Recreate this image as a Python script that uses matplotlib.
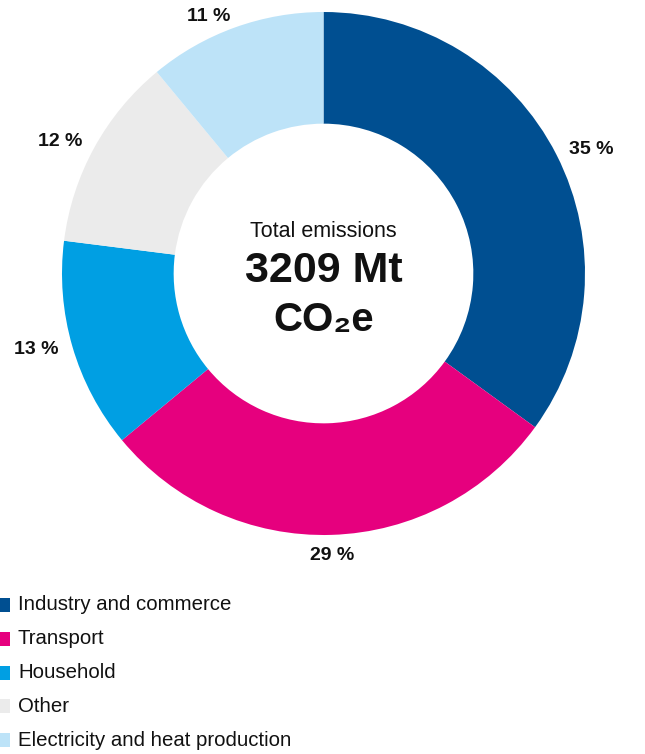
import numpy as np
import matplotlib
matplotlib.use('Agg')
import matplotlib.pyplot as plt
from matplotlib.patches import Rectangle

# data
sectors = ['Industry and commerce', 'Transport', 'Household', 'Other',
           'Electricity and heat production']
shares = [35, 29, 13, 12, 11]
colors = ['#004f91', '#e6007e', '#009fe3', '#ebebeb', '#bde3f8']
total_label = '3209 Mt'

plt.rcParams['font.family'] = ['Liberation Sans', 'DejaVu Sans']

W, H = 645, 754
fig = plt.figure(figsize=(W / 100, H / 100), dpi=100)
ax = fig.add_axes([0, 0, 1, 1])

cx, cy, R = 323.5, H - 273.5, 261.5
wedges, _ = ax.pie(shares, colors=colors, startangle=90, counterclock=False,
                   center=(cx, cy), radius=R, frame=True,
                   wedgeprops=dict(width=R * 0.427, linewidth=0))
ax.set_xlim(0, W)
ax.set_ylim(0, H)
ax.set_aspect('equal')
ax.axis('off')

# percent labels just outside the ring, anchored on the side facing it
for w, s in zip(wedges, shares):
    ang = np.deg2rad((w.theta1 + w.theta2) / 2)
    c, sn = np.cos(ang), np.sin(ang)
    x = cx + (R + 14) * c
    y = cy + (R + 12) * sn
    ha = 'left' if c > 0.3 else ('right' if c < -0.3 else 'center')
    va = 'center'
    if abs(c) <= 0.3:
        va = 'bottom' if sn > 0 else 'top'
    ax.text(x, y, f'{s} %', ha=ha, va=va, fontsize=14, fontweight='bold',
            color='#111111')

# centre text
ax.text(cx, cy + 42, 'Total emissions', ha='center', va='center', fontsize=15.5,
        color='#111111')
ax.text(cx, cy + 3, total_label, ha='center', va='center', fontsize=31,
        fontweight='bold', color='#111111')
ax.text(cx, cy - 47, 'CO₂e', ha='center', va='center', fontsize=29,
        fontweight='bold', color='#111111')

# legend
for i, (name, c) in enumerate(zip(sectors, colors)):
    yc = H - 605 - i * 33.8
    ax.add_patch(Rectangle((0, yc - 7), 10, 14, color=c, lw=0))
    ax.text(18, yc, name, ha='left', va='center', fontsize=14.7, color='#111111')

fig.savefig('out.png', dpi=100)
